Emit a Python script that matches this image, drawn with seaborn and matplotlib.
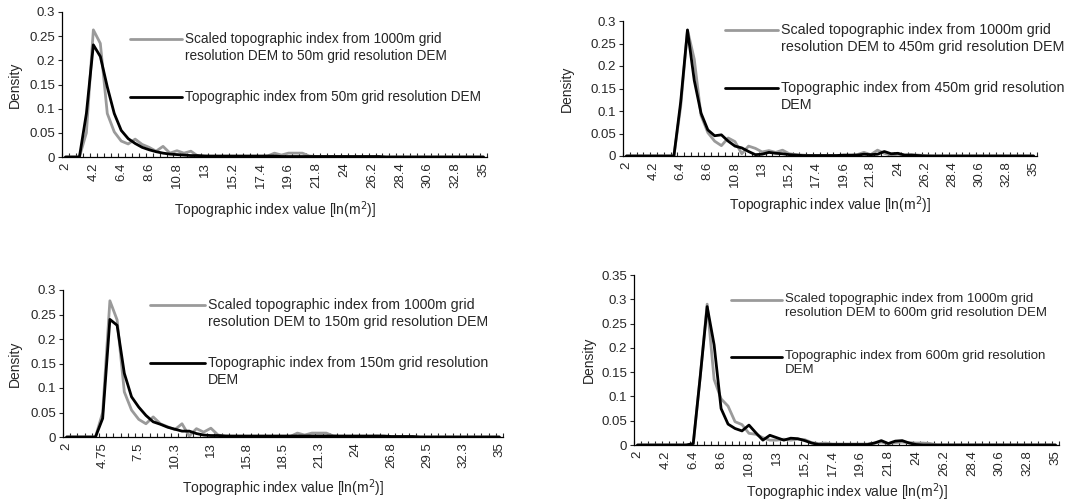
#!/usr/bin/env python3
"""Four density curves of topographic index values (scaled vs. original DEM)."""

import numpy as np
import matplotlib
matplotlib.use("Agg")
import matplotlib.pyplot as plt
from matplotlib.lines import Line2D
import seaborn as sns

# category axis: 2 .. 35, step 0.55 (61 classes)
categories = [2.0, 2.55, 3.1, 3.65, 4.2, 4.75, 5.3, 5.85, 6.4, 6.95,
              7.5, 8.05, 8.6, 9.15, 9.7, 10.25, 10.8, 11.35, 11.9, 12.45,
              13.0, 13.55, 14.1, 14.65, 15.2, 15.75, 16.3, 16.85, 17.4, 17.95,
              18.5, 19.05, 19.6, 20.15, 20.7, 21.25, 21.8, 22.35, 22.9, 23.45,
              24.0, 24.55, 25.1, 25.65, 26.2, 26.75, 27.3, 27.85, 28.4, 28.95,
              29.5, 30.05, 30.6, 31.15, 31.7, 32.25, 32.8, 33.35, 33.9, 34.45,
              35.0]

# --- 50m ---
scaled_50 = [0, 0, 0, 0.05, 0.263, 0.235, 0.09, 0.052, 0.033, 0.027,
             0.037, 0.026, 0.02, 0.012, 0.022, 0.008, 0.013, 0.008, 0.012, 0.002,
             0.002, 0.001, 0.001, 0.001, 0.001, 0.001, 0.001, 0.001, 0.001, 0.002,
             0.008, 0.004, 0.008, 0.008, 0.008, 0.002, 0.001, 0.001, 0.001, 0.001,
             0.001, 0, 0, 0, 0, 0, 0, 0, 0, 0,
             0, 0, 0, 0, 0, 0, 0, 0, 0, 0, 0]
orig_50 = [0, 0, 0, 0.09, 0.232, 0.208, 0.145, 0.09, 0.055, 0.038,
           0.028, 0.02, 0.015, 0.011, 0.008, 0.006, 0.005, 0.004, 0.003, 0.003,
           0.002, 0.002, 0.002, 0.002, 0.002, 0.002, 0.002, 0.002, 0.002, 0.002,
           0.002, 0.001, 0.001, 0.001, 0.001, 0.001, 0.001, 0.001, 0.001, 0.001,
           0.001, 0.001, 0.001, 0.001, 0.001, 0.001, 0, 0, 0, 0,
           0, 0, 0, 0, 0, 0, 0, 0, 0, 0, 0]

# --- 450m ---
scaled_450 = [0, 0, 0, 0, 0, 0, 0, 0, 0.11, 0.28,
              0.215, 0.09, 0.052, 0.033, 0.023, 0.04, 0.032, 0.005, 0.022, 0.017,
              0.009, 0.012, 0.008, 0.013, 0.005, 0.003, 0.002, 0.001, 0.001, 0.001,
              0.001, 0.001, 0.001, 0.001, 0.003, 0.008, 0.003, 0.013, 0.006, 0.002,
              0.004, 0.002, 0.003, 0.002, 0.001, 0, 0, 0, 0, 0,
              0, 0, 0, 0, 0, 0, 0, 0, 0, 0, 0]
orig_450 = [0, 0, 0, 0, 0, 0, 0, 0, 0.12, 0.28,
            0.168, 0.095, 0.058, 0.045, 0.047, 0.033, 0.022, 0.018, 0.01, 0.003,
            0.004, 0.008, 0.006, 0.005, 0.003, 0.002, 0.001, 0.001, 0.001, 0.001,
            0.001, 0.001, 0.002, 0.002, 0.002, 0.004, 0.003, 0.004, 0.01, 0.005,
            0.006, 0.002, 0.002, 0.001, 0, 0, 0, 0, 0, 0,
            0, 0, 0, 0, 0, 0, 0, 0, 0, 0, 0]

# --- 150m ---
scaled_150 = [0, 0, 0, 0, 0, 0.05, 0.278, 0.239, 0.092, 0.055,
              0.036, 0.027, 0.041, 0.027, 0.021, 0.015, 0.027, 0.002, 0.017, 0.01,
              0.018, 0.004, 0.002, 0.001, 0.001, 0.001, 0.001, 0.001, 0.001, 0.001,
              0.001, 0.001, 0.008, 0.004, 0.008, 0.008, 0.008, 0.002, 0.001, 0.001,
              0.001, 0.001, 0.001, 0.002, 0.001, 0, 0, 0, 0, 0,
              0, 0, 0, 0, 0, 0, 0, 0, 0, 0, 0]
orig_150 = [0, 0, 0, 0, 0, 0.038, 0.24, 0.228, 0.13, 0.082,
            0.061, 0.044, 0.031, 0.026, 0.02, 0.016, 0.012, 0.012, 0.007, 0.004,
            0.003, 0.003, 0.002, 0.002, 0.002, 0.002, 0.002, 0.002, 0.002, 0.002,
            0.002, 0.002, 0.002, 0.002, 0.002, 0.002, 0.002, 0.002, 0.002, 0.002,
            0.002, 0.002, 0.002, 0.002, 0.002, 0.001, 0.001, 0.001, 0.001, 0,
            0, 0, 0, 0, 0, 0, 0, 0, 0, 0, 0]

# --- 600m ---
scaled_600 = [0, 0, 0, 0, 0, 0, 0, 0, 0, 0.14,
              0.29, 0.135, 0.095, 0.08, 0.048, 0.042, 0.024, 0.022, 0.015, 0.01,
              0.01, 0.012, 0.01, 0.012, 0.011, 0.005, 0.003, 0.004, 0.002, 0.002,
              0.002, 0.002, 0.002, 0.002, 0.004, 0.006, 0.003, 0.005, 0.006, 0.005,
              0.004, 0.004, 0.003, 0, 0, 0, 0, 0, 0, 0,
              0, 0, 0, 0, 0, 0, 0, 0, 0, 0, 0]
orig_600 = [0, 0, 0, 0, 0, 0, 0, 0, 0.003, 0.14,
            0.285, 0.206, 0.075, 0.043, 0.034, 0.029, 0.041, 0.025, 0.01, 0.02,
            0.015, 0.01, 0.014, 0.013, 0.009, 0.004, 0.001, 0.001, 0.001, 0.001,
            0.001, 0.001, 0.001, 0.001, 0.004, 0.009, 0.003, 0.008, 0.009, 0.004,
            0.001, 0, 0, 0, 0, 0, 0, 0, 0, 0,
            0, 0, 0, 0, 0, 0, 0, 0, 0, 0, 0]

labels_a = ["2", "4.2", "6.4", "8.6", "10.8", "13", "15.2", "17.4", "19.6",
            "21.8", "24", "26.2", "28.4", "30.6", "32.8", "35"]
ticks_a = [2.0, 4.2, 6.4, 8.6, 10.8, 13.0, 15.2, 17.4, 19.6,
           21.8, 24.0, 26.2, 28.4, 30.6, 32.8, 35.0]
labels_b = ["2", "4.75", "7.5", "10.3", "13", "15.8", "18.5", "21.3", "24",
            "26.8", "29.5", "32.3", "35"]
ticks_b = [2.0, 4.75, 7.5, 10.25, 13.0, 15.75, 18.5, 21.25, 24.0,
           26.75, 29.5, 32.25, 35.0]

GRAY = "#9a9a9a"
W, H = 1087, 503


def fx(px):
    return px / W


def fy(py):
    return 1 - py / H


def make_panel(fig, box, scaled, orig, res, ticks, labels, ymax,
               ylab_x, xlab_y, leg, leg_fs):
    left, right, top, bottom = box
    ax = fig.add_axes([fx(left), fy(bottom), fx(right - left), (bottom - top) / H])
    sns.lineplot(x=categories, y=scaled, ax=ax, color=GRAY, lw=2.0)
    sns.lineplot(x=categories, y=orig, ax=ax, color="black", lw=2.0)

    ax.set_xlim(2 - 0.275, 35 + 0.275)
    ax.set_ylim(0, ymax)
    yt = np.round(np.arange(0, ymax + 0.001, 0.05), 2)
    ax.set_yticks(yt)
    ax.set_yticklabels(["0" if v == 0 else f"{v:g}" for v in yt], fontsize=9.5)
    ax.set_xticks(ticks)
    ax.set_xticklabels(labels, rotation=90, fontsize=9.5)
    ax.set_xticks(np.arange(2 - 0.275, 35.3, 0.55), minor=True)
    ax.tick_params(axis="x", which="major", length=0, pad=4)
    ax.tick_params(axis="x", which="minor", direction="in", length=3, width=0.8)
    ax.tick_params(axis="y", direction="out", length=3, width=0.8, pad=2)
    for s in ["top", "right"]:
        ax.spines[s].set_visible(False)
    for s in ["left", "bottom"]:
        ax.spines[s].set_color("black")
        ax.spines[s].set_linewidth(0.9)

    ax.set_ylabel("Density", fontsize=10, va="center")
    ax.yaxis.set_label_coords((ylab_x - left) / (right - left), 0.5)
    ax.set_xlabel("Topographic index value [ln(m$^2$)]", fontsize=10, va="center")
    ax.xaxis.set_label_coords(0.5, -(xlab_y - bottom) / (bottom - top))

    # legend keys drawn like the original (line then text on the right)
    lx0, lx1, gy, by = leg
    fig.add_artist(Line2D([fx(lx0), fx(lx1)], [fy(gy), fy(gy)], color=GRAY, lw=2.0))
    fig.add_artist(Line2D([fx(lx0), fx(lx1)], [fy(by), fy(by)], color="black", lw=2.0))
    fig.text(fx(lx1 + 3), fy(gy - 7),
             "Scaled topographic index from 1000m grid\n"
             f"resolution DEM to {res} grid resolution DEM",
             fontsize=leg_fs, va="top", ha="left", linespacing=1.25)
    if res == "50m":
        otxt = f"Topographic index from {res} grid resolution DEM"
    else:
        otxt = f"Topographic index from {res} grid resolution\nDEM"
    fig.text(fx(lx1 + 3), fy(by - 7), otxt,
             fontsize=leg_fs, va="top", ha="left", linespacing=1.25)
    return ax


def main():
    sns.set_style("ticks")
    plt.rcParams["font.family"] = ["Liberation Sans", "DejaVu Sans"]
    fig = plt.figure(figsize=(W / 100, H / 100), dpi=100)

    make_panel(fig, (62, 487, 12, 157), scaled_50, orig_50, "50m",
               ticks_a, labels_a, 0.3, 15, 210, (130, 182, 39, 97), 9.8)
    make_panel(fig, (623, 1037, 21, 156), scaled_450, orig_450, "450m",
               ticks_a, labels_a, 0.3, 567, 205, (725, 778, 30, 88), 10.3)
    make_panel(fig, (63, 503, 290, 437), scaled_150, orig_150, "150m",
               ticks_b, labels_b, 0.3, 15, 488, (150, 205, 305, 363), 10.2)
    make_panel(fig, (634, 1059, 275, 445), scaled_600, orig_600, "600m",
               ticks_a, labels_a, 0.35, 589, 492, (731, 782, 300, 357), 9.5)

    fig.savefig("out.png", dpi=100)
    plt.close(fig)


if __name__ == "__main__":
    main()
